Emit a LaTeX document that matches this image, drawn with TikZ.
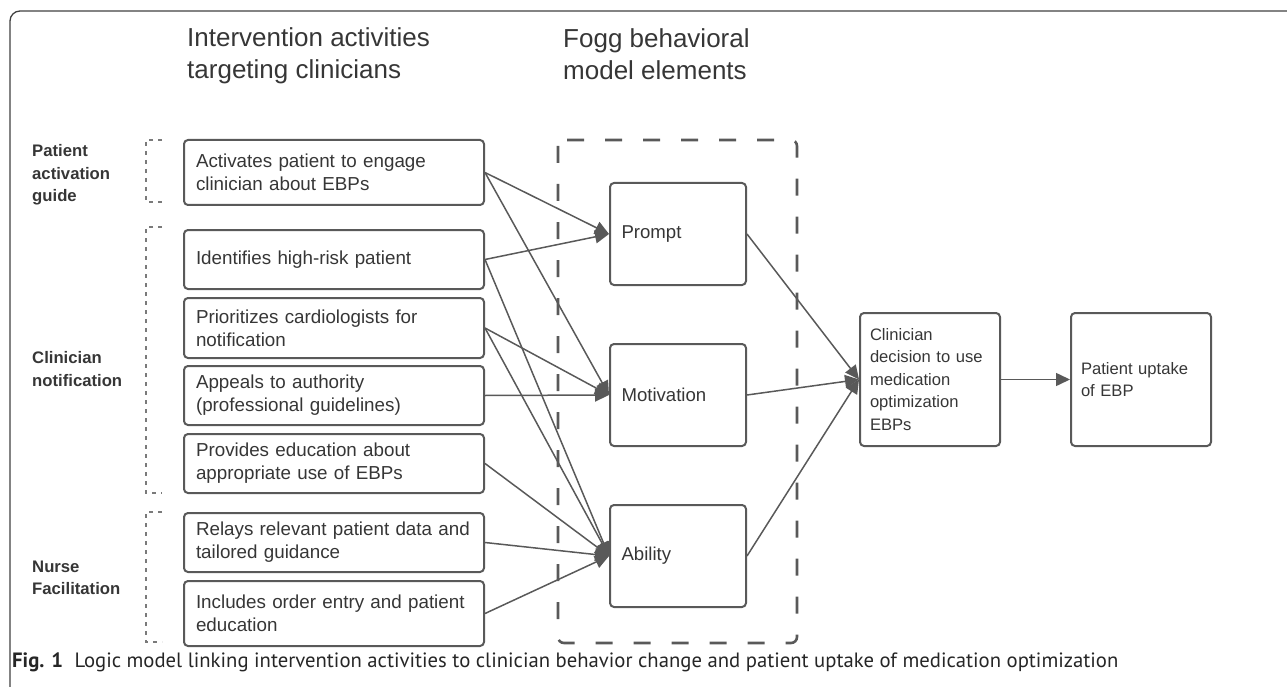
\documentclass[tikz,border=0pt]{standalone}
\usepackage{fontspec}
\setmainfont{Liberation Sans}
\newfontfamily\capfont{PT Sans}
\usepackage{tikz}
\usetikzlibrary{arrows.meta}
\usetikzlibrary{positioning}
\definecolor{linegray}{HTML}{595959}
\definecolor{textgray}{HTML}{363636}

\begin{document}
\begin{tikzpicture}[x=1pt,y=-1pt,->,>={Triangle[length=14pt,width=13pt]},
    act node/.style={rectangle,rounded corners=4pt,draw=linegray,line width=2pt,text=textgray,
      font=\fontsize{18.8}{23}\selectfont,align=left,text width=276pt,inner xsep=12pt,
      minimum height=59pt,anchor=north west},
    fogg node/.style={act node,text width=113pt,inner xsep=11.5pt,minimum height=102pt,
      font=\fontsize{18.6}{23}\selectfont},
    out node/.style={act node,text width=120pt,inner xsep=10pt,minimum height=133pt,
      font=\fontsize{16.6}{22.5}\selectfont},
    group label/.style={anchor=west,inner sep=0pt,align=left,text=textgray,
      font=\bfseries\fontsize{16.7}{22.5}\selectfont},
    heading/.style={anchor=west,inner sep=0pt,align=left,text=textgray,
      font=\fontsize{26}{32}\selectfont},
    link/.style={line width=1.5pt,linegray},
    bracket/.style={-,line width=1.1pt,draw=linegray!80,dash pattern=on 4pt off 5pt}]
    \useasboundingbox (0,0) rectangle (1287,687);
    % frame of the figure
    \draw[-,line width=1.3pt,draw=black!75,rounded corners=10pt] (10,687) |- (1287,11);

    \node[heading] (h1) at (187,56) {Intervention activities\\targeting clinicians};
    \node[heading] (h2) at (563,54) {Fogg behavioral\\model elements};

    \node[group label] (g1) at (32,175) {Patient\\activation\\guide};
    \node[group label] (g2) at (32,369) {Clinician\\notification};
    \node[group label] (g3) at (32,578) {Nurse\\Facilitation};

    \draw[bracket] (162,140) -- (146,140) -- (146,202) -- (162,202);
    \draw[bracket] (162,227) -- (146,227) -- (146,493) -- (162,493);
    \draw[bracket] (162,512) -- (146,512) -- (146,642) -- (162,642);

    % intervention activities
    \node[act node,minimum height=65pt] (a1) at (183,139) {Activates patient to engage\\clinician about EBPs};
    \node[act node] (a2) at (183,229) {Identifies high-risk patient};
    \node[act node,minimum height=60pt] (a3) at (183,297) {Prioritizes cardiologists for\\notification};
    \node[act node] (a4) at (183,365) {Appeals to authority\\(professional guidelines)};
    \node[act node] (a5) at (183,433) {Provides education about\\appropriate use of EBPs};
    \node[act node] (a6) at (183,512) {Relays relevant patient data and\\tailored guidance};
    \node[act node,minimum height=65pt] (a7) at (183,580) {Includes order entry and patient\\education};

    % Fogg elements
    \draw[-,line width=2.6pt,draw=linegray,dash pattern=on 17pt off 21pt,rounded corners=6pt]
      (558,140) rectangle (797,643);
    \node[fogg node] (prompt) at (609,182) {Prompt};
    \node[fogg node] (motiv) at (609,343) {Motivation};
    \node[fogg node] (abil) at (609,504) {Ability};

    \node[out node] (dec) at (859,312) {Clinician\\decision to use\\medication\\optimization\\EBPs};
    \node[out node] (uptake) at (1070,312) {Patient uptake\\of EBP};

    \path[link] (a1.east) edge (prompt.west);
    \path[link] (a1.east) edge (motiv.west);
    \path[link] (a2.east) edge (prompt.west);
    \path[link] (a2.east) edge (abil.west);
    \path[link] (a3.east) edge (motiv.west);
    \path[link] (a3.east) edge (abil.west);
    \path[link] (a4.east) edge (motiv.west);
    \path[link] (a5.east) edge (abil.west);
    \path[link] (a6.east) edge (abil.west);
    \path[link] (a7.east) edge (abil.west);
    \path[link] (prompt.east) edge (dec.west);
    \path[link] (motiv.east) edge (dec.west);
    \path[link] (abil.east) edge (dec.west);
    \path[link] (dec.east) edge (uptake.west);

    \node[anchor=base west,inner sep=0pt,text=black!85,font=\capfont\fontsize{20.7}{24}\selectfont]
      (cap) at (12,667) {\textbf{Fig. 1}\hspace{0.55em}Logic model linking intervention activities to clinician behavior change and patient uptake of medication optimization};
  \end{tikzpicture}
\end{document}
